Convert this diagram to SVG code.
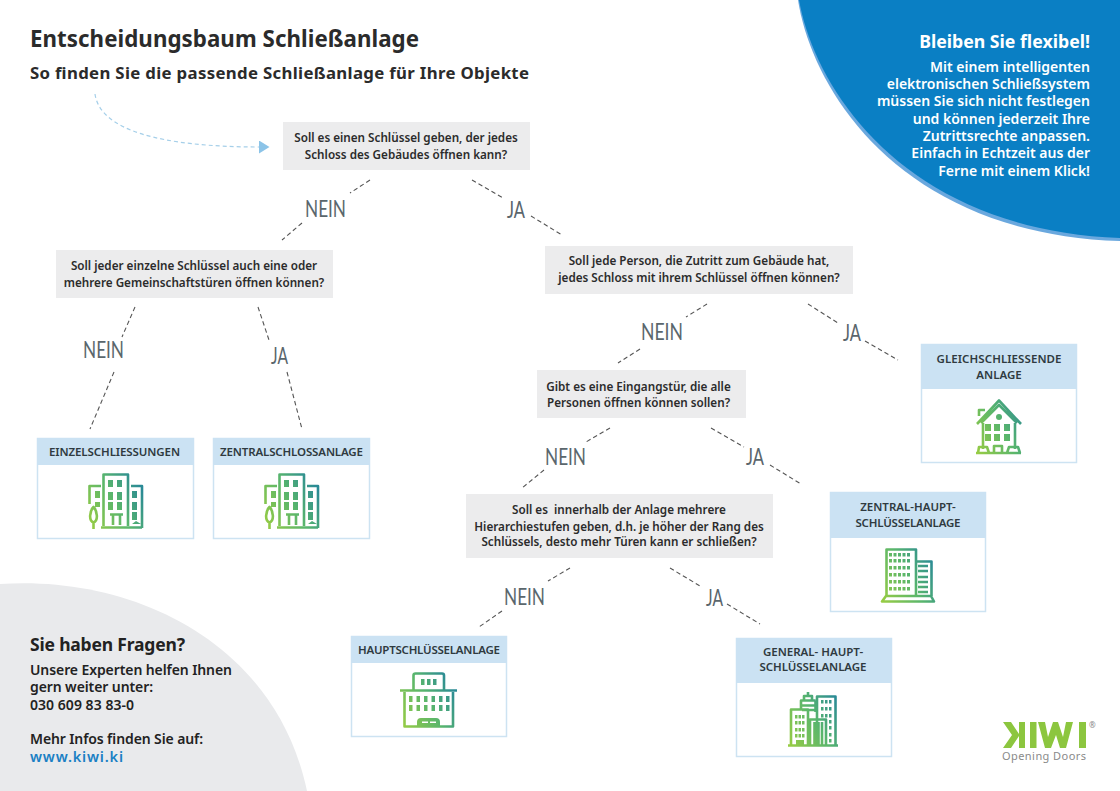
<svg xmlns="http://www.w3.org/2000/svg" width="1120" height="791" viewBox="0 0 1120 791">
<style>
text{font-family:"Noto Sans","Open Sans",sans-serif;fill:#222}
.q{font-size:11.7px;font-weight:600;text-anchor:middle;fill:#2b2b2b}
.qb{fill:#ececed}
.h{fill:#cbe2f3}
.c{fill:#fff;stroke:#cde3f2;stroke-width:1.5}
.t{font-size:11.5px;font-weight:600;text-anchor:middle;fill:#2f3a40}
.d{fill:none;stroke:#555;stroke-width:1.1;stroke-dasharray:4.500 3}
.l{font-size:23px;font-weight:400;fill:#5a666c;font-family:"Lato","Open Sans",sans-serif}
.w{font-size:14px;font-weight:600;text-anchor:end;fill:#fff}
.s{font-size:14px;font-weight:600}
.i{fill:none;stroke:url(#g);stroke-width:2.600;stroke-linejoin:round}
.f{fill:url(#g);stroke:none}
</style>
<defs>
<linearGradient id="g" gradientUnits="userSpaceOnUse" x1="0" y1="50" x2="56" y2="20"><stop offset="0" stop-color="#97cc44"/><stop offset=".55" stop-color="#58b56d"/><stop offset="1" stop-color="#2a8a96"/></linearGradient>
<marker id="a" markerWidth="11" markerHeight="13" refX="1" refY="6.500" orient="auto" markerUnits="userSpaceOnUse"><path d="M0 0L10.500 6.500L0 13Z" fill="#8cc4e8"/></marker>
<g id="i1"><path class="i" d="M15.500 53V1.500H40V53M13 13H1.500V31M43 13H54V55M13 54.500H54"/><path class="f" d="M20 7h5v7h-5zM29 7h5v7h-5zM20 19h5v8h-5zM29 19h5v8h-5zM20 29h5v8h-5zM29 29h5v8h-5zM7 18h5v7h-5zM7 29h5v5h-5zM44 18h5v7h-5zM44 29h5v8h-5zM44 39h5v8h-5zM44 51l4-3 5 3z"/><path class="i" d="M22 41.500H35M25 41.500V52M32 41.500V52" stroke-width="2"/><path class="i" d="M5.500 34c-4 4-5 14 0 15.500c5-1.500 4-11.500 0-15.500zM5.500 49V56"/></g>
<g id="i2"><path class="i" d="M2 25L24 1.500L46 25M6 24L24 6L42 24M4 17V11H10M8 24V50M40 24V50"/><circle class="f" cx="24" cy="18" r="3"/><path class="f" d="M10 25h6v7h-6zM19 25h6v7h-6zM29 25h6v7h-6zM10 35h6v7h-6zM19 35h6v7h-6zM29 35h6v7h-6z"/><path class="i" d="M1 54H46M3 54L4 48H12L14 54M19 54V47H27V54M32 54L34 48H43L45 54"/></g>
<g id="i3"><path class="i" d="M5.500 48V1.500H35V48M35 13.500H50.500V48" stroke-width="3"/><path class="i" d="M5 48L1 53.500H53L50 48H5Z"/><path class="f" d="M8 5h3v3.500h-3zM12.500 5h3v3.500h-3zM17 5h3v3.500h-3zM21.500 5h3v3.500h-3zM26 5h3v3.500h-3zM8 11h3v3.500h-3zM12.500 11h3v3.500h-3zM17 11h3v3.500h-3zM21.500 11h3v3.500h-3zM26 11h3v3.500h-3zM8 18h3v3.500h-3zM12.500 18h3v3.500h-3zM17 18h3v3.500h-3zM21.500 18h3v3.500h-3zM26 18h3v3.500h-3zM8 25h3v3.500h-3zM12.500 25h3v3.500h-3zM17 25h3v3.500h-3zM21.500 25h3v3.500h-3zM26 25h3v3.500h-3zM8 32h3v3.500h-3zM12.500 32h3v3.500h-3zM17 32h3v3.500h-3zM21.500 32h3v3.500h-3zM26 32h3v3.500h-3zM8 39h3v3.500h-3zM12.500 39h3v3.500h-3zM17 39h3v3.500h-3zM21.500 39h3v3.500h-3zM26 39h3v3.500h-3z"/><path class="i" d="M37 18H47M37 23H47M37 29H47M37 34H47M37 39H47M37 44H47" stroke-width="1.500"/></g>
<g id="i4"><path class="i" d="M13.500 18V3.500Q13.500 1.500 15.500 1.500H42Q44 1.500 44 3.500V18M4.500 20V54.500H53V20" stroke-width="3"/><path class="i" d="M0 18.500H57" stroke-width="3.500"/><path class="f" d="M21 7h3.500v6h-3.500zM27 7h3.500v6h-3.500zM33 7h3.500v6h-3.500zM9 24h3.500v6h-3.500zM16.500 24h3.500v6h-3.500zM24 24h3.500v6h-3.500zM31.500 24h3.500v6h-3.500zM39 24h3.500v6h-3.500zM46 24h3.500v6h-3.500zM9 33h3.500v6h-3.500zM16.500 33h3.500v6h-3.500zM24 33h3.500v6h-3.500zM31.500 33h3.500v6h-3.500zM39 33h3.500v6h-3.500zM46 33h3.500v6h-3.500zM17 55V50Q17 46 21 46H36Q40 46 40 50V55Z"/><path d="M22 49.500h6v1.500h-6zM30 49.500h6v1.500h-6z" fill="#fff"/></g>
<g id="i5"><path class="i" d="M3 53V17.500H20V53M13 17V8.500H27.500M27.500 8.500V20M16 8V4H24V8M20 4V0M29 53V4.500H47.500V53M22 53V27.500H38V53M26.500 30V53M30.500 30V53M34 30V53M14 13.500H27M14 18H27" stroke-width="2.200"/><path class="i" d="M0 53.500H50"/><path class="f" d="M7 23h2.500v3.500h-2.500zM10.500 23h2.500v3.500h-2.500zM14 23h2.500v3.500h-2.500zM7 29h2.500v3.500h-2.500zM10.500 29h2.500v3.500h-2.500zM14 29h2.500v3.500h-2.500zM7 36h2.500v3.500h-2.500zM10.500 36h2.500v3.500h-2.500zM14 36h2.500v3.500h-2.500zM7 42h2.500v3.500h-2.500zM10.500 42h2.500v3.500h-2.500zM14 42h2.500v3.500h-2.500zM8 48h8v5h-8zM33 8h2.500v3.500h-2.500zM37 8h2.500v3.500h-2.500zM41 8h2.500v3.500h-2.500zM33 15h2.500v3.500h-2.500zM37 15h2.500v3.500h-2.500zM41 15h2.500v3.500h-2.500zM33 22h2.500v3.500h-2.500zM37 22h2.500v3.500h-2.500zM41 22h2.500v3.500h-2.500zM41 28h2.500v3.500h-2.500zM41 34h2.500v3.500h-2.500zM41 41h2.500v3.500h-2.500zM41 47h2.500v3.500h-2.500z"/></g>
</defs>
<rect width="1120" height="791" fill="#fff"/>
<g id="corners">
<path d="M798 0C812 90 900 234 1120 241V0Z" fill="#6aa8de"/>
<path d="M799 0C815 90 905 230 1120 238V0Z" fill="#0a7fc4"/>
<path d="M0 584C130 575 275 640 307 791H0Z" fill="#e9eaec"/>
</g>
<g id="heading">
<text x="30" y="47" font-size="22.300" font-weight="700" textLength="389" style="fill:#2b2b2b">Entscheidungsbaum Schließanlage</text>
<text x="30" y="79" font-size="16.800" font-weight="700" textLength="499" style="fill:#2b2b2b">So finden Sie die passende Schließanlage für Ihre Objekte</text>
</g>
<g id="connectors">
<path d="M95 94C100 130 160 147 260 147" fill="none" stroke="#a5cfe9" stroke-width="1.200" stroke-dasharray="4 3" marker-end="url(#a)"/>
<path class="d" d="M370 180L350 193M302 223L282 240M472 180L503 198M531 216L562 235"/>
<path class="d" d="M135 307L122 337M114 372L90 429M258 307L269 340M287 372L302 429"/>
<path class="d" d="M707 304L686 317M640 349L618 363M808 304L838 323M865 341L898 360"/>
<path class="d" d="M610 428L586 442M544 470L522 488M711 428L744 447M770 465L801 484"/>
<path class="d" d="M570 568L548 581M502 611L479 627M670 568L700 586M727 604L760 624"/>
</g>
<g id="labels">
<text class="l" x="305" y="217" textLength="41" lengthAdjust="spacingAndGlyphs">NEIN</text>
<text class="l" x="507" y="218" textLength="18" lengthAdjust="spacingAndGlyphs">JA</text>
<text class="l" x="83" y="358" textLength="41" lengthAdjust="spacingAndGlyphs">NEIN</text>
<text class="l" x="271" y="364" textLength="17" lengthAdjust="spacingAndGlyphs">JA</text>
<text class="l" x="641" y="340" textLength="42" lengthAdjust="spacingAndGlyphs">NEIN</text>
<text class="l" x="843" y="341" textLength="18" lengthAdjust="spacingAndGlyphs">JA</text>
<text class="l" x="545" y="465" textLength="41" lengthAdjust="spacingAndGlyphs">NEIN</text>
<text class="l" x="746" y="465" textLength="18" lengthAdjust="spacingAndGlyphs">JA</text>
<text class="l" x="504" y="605" textLength="41" lengthAdjust="spacingAndGlyphs">NEIN</text>
<text class="l" x="706" y="606" textLength="17" lengthAdjust="spacingAndGlyphs">JA</text>
</g>
<g id="q1"><rect class="qb" x="283" y="122" width="247" height="48"/><text class="q" x="406" y="142">Soll es einen Schlüssel geben, der jedes</text><text class="q" x="406" y="159">Schloss des Gebäudes öffnen kann?</text></g>
<g id="q2"><rect class="qb" x="56" y="250" width="277" height="48"/><text class="q" x="194" y="270">Soll jeder einzelne Schlüssel auch eine oder</text><text class="q" x="194" y="287">mehrere Gemeinschaftstüren öffnen können?</text></g>
<g id="q3"><rect class="qb" x="545" y="246" width="308" height="48"/><text class="q" x="699" y="265">Soll jede Person, die Zutritt zum Gebäude hat,</text><text class="q" x="699" y="282">jedes Schloss mit ihrem Schlüssel öffnen können?</text></g>
<g id="q4"><rect class="qb" x="537" y="370" width="209" height="48"/><text class="q" x="638.500" y="391">Gibt es eine Eingangstür, die alle</text><text class="q" x="638.500" y="407">Personen öffnen können sollen?</text></g>
<g id="q5"><rect class="qb" x="466" y="494" width="307" height="64"/><text class="q" x="619" y="514">Soll es&#160; innerhalb der Anlage mehrere</text><text class="q" x="619" y="530.500">Hierarchiestufen geben, d.h. je höher der Rang des</text><text class="q" x="619" y="546">Schlüssels, desto mehr Türen kann er schließen?</text></g>
<g id="r1"><rect class="c" x="37.500" y="438.500" width="156" height="100"/><rect class="h" x="37" y="438" width="157" height="27"/><text class="t" x="114.500" y="456" textLength="131">EINZELSCHLIESSUNGEN</text><use href="#i1" x="88" y="473"/></g>
<g id="r2"><rect class="c" x="213.500" y="438.500" width="156" height="100"/><rect class="h" x="213" y="438" width="157" height="27"/><text class="t" x="291.500" y="456" textLength="143">ZENTRALSCHLOSSANLAGE</text><use href="#i1" x="264" y="473"/></g>
<g id="r3"><rect class="c" x="921.500" y="344.500" width="155" height="118"/><rect class="h" x="921" y="344" width="156" height="45"/><text class="t" x="999" y="363" textLength="125">GLEICHSCHLIESSENDE</text><text class="t" x="999" y="379">ANLAGE</text><use href="#i2" x="975" y="399"/></g>
<g id="r4"><rect class="c" x="830.500" y="492.500" width="155" height="119"/><rect class="h" x="830" y="492" width="156" height="46"/><text class="t" x="908" y="511">ZENTRAL-HAUPT-</text><text class="t" x="908" y="527" textLength="105">SCHLÜSSELANLAGE</text><use href="#i3" x="881" y="548"/></g>
<g id="r5"><rect class="c" x="351.500" y="636.500" width="155" height="100"/><rect class="h" x="351" y="636" width="156" height="27"/><text class="t" x="429" y="654" textLength="142">HAUPTSCHLÜSSELANLAGE</text><use href="#i4" x="400" y="672"/></g>
<g id="r6"><rect class="c" x="736.500" y="638.500" width="155" height="118"/><rect class="h" x="736" y="638" width="156" height="45"/><text class="t" x="813" y="656">GENERAL- HAUPT-</text><text class="t" x="813" y="671" textLength="107">SCHLÜSSELANLAGE</text><use href="#i5" x="788" y="692"/></g>
<g id="flex">
<text class="w" x="1090" y="48" style="font-size:17.700px;font-weight:700">Bleiben Sie flexibel!</text>
<text class="w" x="1090" y="72">Mit einem intelligenten</text>
<text class="w" x="1090" y="89">elektronischen Schließsystem</text>
<text class="w" x="1090" y="106">müssen Sie sich nicht festlegen</text>
<text class="w" x="1090" y="124">und können jederzeit Ihre</text>
<text class="w" x="1090" y="141">Zutrittsrechte anpassen.</text>
<text class="w" x="1090" y="158">Einfach in Echtzeit aus der</text>
<text class="w" x="1090" y="176">Ferne mit einem Klick!</text>
</g>
<g id="contact">
<text x="30" y="651" font-size="17.500" font-weight="700" textLength="155">Sie haben Fragen?</text>
<text class="s" x="30" y="675" textLength="202">Unsere Experten helfen Ihnen</text>
<text class="s" x="30" y="692" textLength="123">gern weiter unter:</text>
<text class="s" x="30" y="710" textLength="104">030 609 83 83-0</text>
<text class="s" x="30" y="744" textLength="173">Mehr Infos finden Sie auf:</text>
<text x="30" y="762" font-size="14.500" font-weight="600" textLength="93" style="fill:#1a80c4">www.kiwi.ki</text>
</g>
<g id="logo">
<path fill="#8cc63f" d="M1003 722h8l8 12v-12h6v26h-6v-12l-8 12h-8l9-13zM1030 722h6.500v26H1030zM1038 722h7l3 15 5-15h5l5 15 3-15h7l-7 26h-6l-4-13-5 13h-6zM1079 722h7v26h-7z"/>
<text x="1089" y="728" font-size="8" style="fill:#888">®</text>
<text x="1002" y="760" font-size="11" textLength="84" style="fill:#8a8a8a">Opening Doors</text>
</g>
</svg>
